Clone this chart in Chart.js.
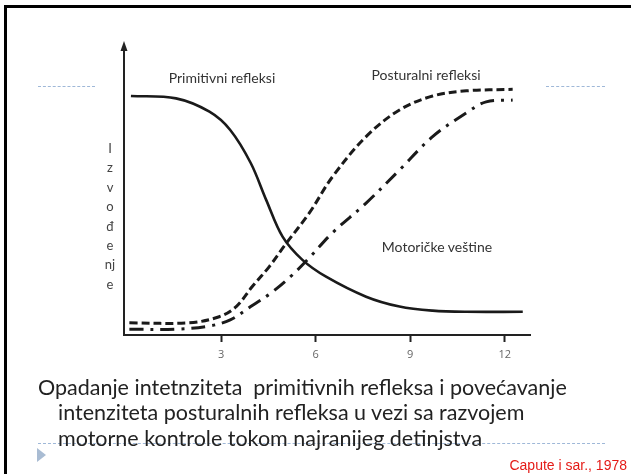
<!DOCTYPE html>
<html>
<head>
<meta charset="utf-8">
<script src="https://cdn.jsdelivr.net/npm/chart.js@4"></script>
<style>
  html, body { margin: 0; padding: 0; background: #fff; }
  #slide { position: relative; width: 631px; height: 474px; overflow: hidden; }
  #frame { position: absolute; left: 4px; top: 5px; width: 640px; height: 480px;
           border-left: 3px solid #000; border-top: 3px solid #000; }
  canvas { position: absolute; left: 0; top: 0; }
  .dots { position: absolute; height: 0; border-top: 1px dashed #9fb8d8; }
  .lbl { position: absolute; font-family: Lato, sans-serif; font-size: 14px; color: #333; white-space: nowrap; transform: translate(-50%, -50%); }
  #ylab { position: absolute; left: 103px; top: 139px; width: 14px; font-family: Lato, sans-serif;
          font-size: 13px; color: #444; text-align: center; line-height: 19.4px; }
  .cap { position: absolute; font-family: Lato, sans-serif; font-size: 21.5px; color: #222; white-space: nowrap; }
  #cite { position: absolute; right: 4px; top: 457px; font-family: "Liberation Sans", Arial, sans-serif;
          font-size: 14px; color: #e41b17; }
  #bullet { position: absolute; left: 37px; top: 448px; width: 0; height: 0;
            border-top: 7px solid transparent; border-bottom: 7px solid transparent; border-left: 9px solid #a9bcd3; }
</style>
</head>
<body>
<div id="slide">
  <div id="frame"></div>
  <div class="dots" style="left:38px; top:86px; width:57px;"></div>
  <div class="dots" style="left:546px; top:86px; width:59px;"></div>
  <div class="dots" style="left:38px; top:443px; width:567px;"></div>
  <canvas id="chart" width="631" height="474"></canvas>
  <div class="lbl" style="left:222px; top:77px;">Primitivni refleksi</div>
  <div class="lbl" style="left:426px; top:74px;">Posturalni refleksi</div>
  <div class="lbl" style="left:437px; top:246px;">Motoričke veštine</div>
  <div id="ylab">I<br>z<br>v<br>o<br>đ<br>e<br>nj<br>e</div>
  <div class="cap" style="left:38px; top:374px;">Opadanje intetnziteta&nbsp; primitivnih refleksa i povećavanje</div>
  <div class="cap" style="left:58px; top:399px;">intenziteta posturalnih refleksa u vezi sa razvojem</div>
  <div class="cap" style="left:58px; top:425px;">motorne kontrole tokom najranijeg detinjstva</div>
  <div id="bullet"></div>
  <div id="cite">Capute i sar., 1978</div>
</div>
<script>
// uzrast (meseci) i intenzitet, procenjeno sa slike
let primitiveX = [0.14, 1.57, 2.63, 3.29, 3.94, 4.43, 4.95, 5.58, 6.33, 7.6, 8.66, 9.71, 10.78, 12.57];
let primitiveY = [82.4, 81.6, 77.0, 70.7, 59.3, 46.6, 33.9, 25.9, 20.1, 13.2, 9.8, 8.4, 8.0, 8.0];

let posturalX = [0.09, 1.99, 2.94, 3.48, 3.99, 4.53, 5.06, 5.8, 6.53, 7.6, 8.66, 9.71, 10.78, 12.25];
let posturalY = [4.2, 4.2, 6.3, 9.8, 16.7, 23.6, 31.5, 42.1, 54.5, 68.4, 77.6, 82.4, 84.2, 84.7];

let motorX = [0.09, 1.57, 2.63, 3.29, 3.94, 4.57, 5.2, 5.83, 6.53, 7.6, 8.66, 9.71, 10.78, 11.41, 12.25];
let motorY = [2.0, 2.0, 3.1, 5.2, 9.8, 14.4, 20.1, 27.0, 35.2, 45.5, 56.9, 68.4, 76.6, 80.4, 81.0];

let tickLabels = [3, 6, 9, 12];

function toPoints(xs, ys) {
  return xs.map(function (x, i) { return { x: x, y: ys[i] }; });
}

let axisArrow = {
  id: 'axisArrow',
  afterDraw: function (chart) {
    let ctx = chart.ctx;
    let x = chart.scales.y.left + chart.scales.y.width;
    let top = chart.chartArea.top;
    ctx.save();
    ctx.fillStyle = '#222';
    ctx.beginPath();
    ctx.moveTo(x, top - 4);
    ctx.lineTo(x - 3.5, top + 6);
    ctx.lineTo(x + 3.5, top + 6);
    ctx.closePath();
    ctx.fill();
    ctx.restore();
  }
};

let ctx = document.getElementById('chart');

new Chart(ctx, {
  type: 'line',
  data: {
    datasets: [{
      label: 'Primitivni refleksi',
      data: toPoints(primitiveX, primitiveY),
      borderColor: '#1a1a1a',
      borderWidth: 2.6
    }, {
      label: 'Posturalni refleksi',
      data: toPoints(posturalX, posturalY),
      borderColor: '#1a1a1a',
      borderWidth: 3,
      borderDash: [8, 4]
    }, {
      label: 'Motoričke veštine',
      data: toPoints(motorX, motorY),
      borderColor: '#1a1a1a',
      borderWidth: 3,
      borderDash: [14, 7, 3, 7]
    }]
  },
  options: {
    responsive: false,
    animation: false,
    events: [],
    layout: { padding: { left: 124, right: 101, top: 45, bottom: 109 } },
    elements: {
      point: { radius: 0 },
      line: { tension: 0.35, borderCapStyle: 'butt' }
    },
    plugins: { legend: { display: false }, tooltip: { enabled: false } },
    scales: {
      x: {
        type: 'linear',
        min: -0.08,
        max: 12.8,
        afterBuildTicks: function (scale) {
          scale.ticks = tickLabels.map(function (v) { return { value: v }; });
        },
        afterFit: function (scale) { scale.height = 30; },
        border: { display: true, color: '#222', width: 2 },
        grid: { display: true, drawOnChartArea: false, drawTicks: true, tickLength: 7, tickColor: '#222', tickWidth: 2 },
        ticks: { padding: 6, color: '#666', font: { family: 'Open Sans', size: 11 } }
      },
      y: {
        min: 0,
        max: 100,
        afterFit: function (scale) { scale.width = 0; },
        border: { display: true, color: '#222', width: 2 },
        grid: { display: false },
        ticks: { display: false }
      }
    }
  },
  plugins: [axisArrow]
});
</script>
</body>
</html>
